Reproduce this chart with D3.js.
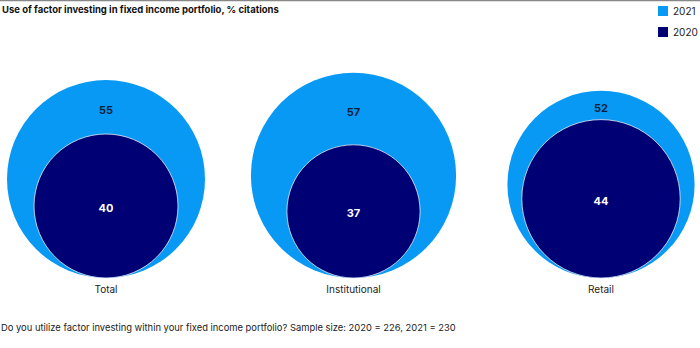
<!DOCTYPE html>
<html>
<head>
<meta charset="utf-8">
<script src="https://cdn.jsdelivr.net/npm/d3@7"></script>
<style>
  body { margin: 0; background: #fff; }
  svg { display: block; font-family: "Inter", "Noto Sans", sans-serif; }
</style>
</head>
<body>
<script>
var categories = ["Total", "Institutional", "Retail"];
var values2021 = [55, 57, 52];
var values2020 = [40, 37, 44];
var years = ["2021", "2020"];

var width = 700;
var height = 348;
var baseline = 278;

var color = d3.scaleOrdinal()
    .domain(years)
    .range(["#0899f5", "#000075"]);

// radius grows linearly with the share
var r = d3.scaleLinear()
    .domain([0, 100])
    .range([0, 180]);

var x = d3.scalePoint()
    .domain(categories)
    .range([106, 601]);

var svg = d3.select("body").append("svg")
    .attr("width", width)
    .attr("height", height);

svg.append("line")
    .attr("x1", 0).attr("x2", width)
    .attr("y1", 0.5).attr("y2", 0.5)
    .attr("stroke", "#888")
    .attr("stroke-width", 1.5);

svg.append("text")
    .attr("x", 2)
    .attr("y", 13)
    .style("font-size", "9.5px")
    .style("font-weight", "bold")
    .attr("fill", "#111")
    .text("Use of factor investing in fixed income portfolio, % citations");

var legend = svg.append("g")
  .selectAll("g")
  .data(years)
  .join("g")
    .attr("transform", (d, i) => `translate(658,${6 + i * 21})`);

legend.append("rect")
    .attr("width", 10)
    .attr("height", 10)
    .attr("fill", d => color(d));

legend.append("text")
    .attr("x", 15)
    .attr("y", 9)
    .style("font-size", "10px")
    .attr("fill", "#222")
    .text(d => d);

var rows = categories.map((c, i) => ({ name: c, a: values2021[i], b: values2020[i] }));

var group = svg.append("g")
  .selectAll("g")
  .data(rows)
  .join("g")
    .attr("transform", d => `translate(${x(d.name)},0)`);

group.append("circle")
    .attr("cy", d => baseline - r(d.a))
    .attr("r", d => r(d.a))
    .attr("fill", color("2021"));

group.append("circle")
    .attr("cy", d => baseline - r(d.b))
    .attr("r", d => r(d.b))
    .attr("fill", color("2020"))
    .attr("stroke", "#e6ecf5")
    .attr("stroke-width", 0.8);

// outer value sits midway between the two circle tops
group.append("text")
    .attr("text-anchor", "middle")
    .attr("dy", "0.35em")
    .attr("y", d => baseline - (2 * r(d.a) + 2 * r(d.b)) / 2 + 3)
    .style("font-size", "11px")
    .style("font-weight", "bold")
    .attr("fill", "#0b1e3a")
    .text(d => d.a);

group.append("text")
    .attr("text-anchor", "middle")
    .attr("dy", "0.35em")
    .attr("y", d => baseline - r(d.b) + 2)
    .style("font-size", "11px")
    .style("font-weight", "bold")
    .attr("fill", "#fff")
    .text(d => d.b);

group.append("text")
    .attr("text-anchor", "middle")
    .attr("y", 293)
    .style("font-size", "10px")
    .attr("fill", "#222")
    .text(d => d.name);

svg.append("text")
    .attr("x", 1)
    .attr("y", 331)
    .style("font-size", "9.4px")
    .attr("fill", "#222")
    .text("Do you utilize factor investing within your fixed income portfolio? Sample size: 2020 = 226, 2021 = 230");
</script>
</body>
</html>
